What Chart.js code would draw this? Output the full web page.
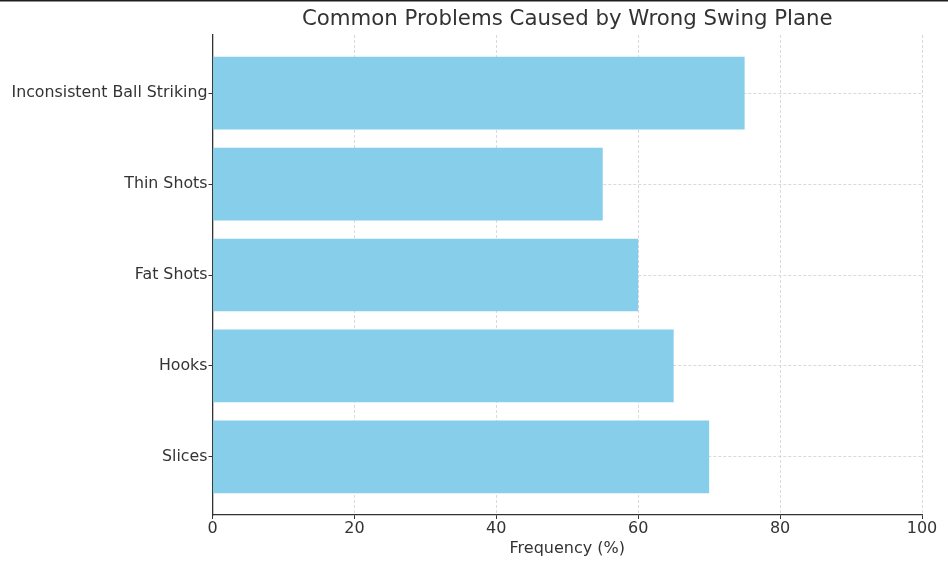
<!DOCTYPE html>
<html>
<head>
<meta charset="utf-8">
<script src="https://cdn.jsdelivr.net/npm/chart.js@4/dist/chart.umd.min.js"></script>
<style>
  html, body { margin: 0; padding: 0; background: #fff; }
  #wrap { width: 948px; height: 562px; position: relative; }
</style>
</head>
<body>
<div id="wrap"><canvas id="c" width="948" height="562"></canvas></div>
<script>
const chartTitle = 'Common Problems Caused by Wrong Swing Plane';
const xAxisTitle = 'Frequency (%)';
const categories = ['Inconsistent Ball Striking', 'Thin Shots', 'Fat Shots', 'Hooks', 'Slices'];
const frequencies = [75, 55, 60, 65, 70];
const xTickValues = [0, 20, 40, 60, 80, 100];

const FONT = "'DejaVu Sans', sans-serif";
const TEXT = '#333333';

const points = categories.map((c, i) => ({ x: frequencies[i], y: i }));

const titlePlugin = {
  id: 'mplTitle',
  afterDraw(chart) {
    const ctx = chart.ctx;
    const a = chart.chartArea;
    ctx.save();
    ctx.fillStyle = TEXT;
    ctx.font = "21.3px " + FONT;
    ctx.textAlign = 'center';
    ctx.textBaseline = 'middle';
    ctx.fillText(chartTitle, (a.left + a.right) / 2, 19.5);
    ctx.restore();
  }
};
const topLinePlugin = {
  id: 'topLine',
  afterDraw(chart) {
    const ctx = chart.ctx;
    ctx.save();
    ctx.fillStyle = '#1e1e1e';
    ctx.fillRect(0, 0, chart.width, 1.5);
    ctx.restore();
  }
};

new Chart(document.getElementById('c'), {
  type: 'bar',
  data: {
    datasets: [{
      data: points,
      backgroundColor: '#87CEEB',
      borderWidth: 0,
      barPercentage: 1.0,
      categoryPercentage: 0.8
    }]
  },
  options: {
    indexAxis: 'y',
    responsive: false,
    animation: false,
    layout: { padding: { left: 0, right: 26, top: 35, bottom: 0 } },
    plugins: { legend: { display: false }, title: { display: false }, tooltip: { enabled: false } },
    scales: {
      x: {
        type: 'linear',
        min: 0, max: 100,
        offset: false,
        afterBuildTicks: s => { s.ticks = xTickValues.map(v => ({ value: v })); },
        afterFit: s => { s.height = 47; },
        ticks: { color: TEXT, font: { family: FONT, size: 16 }, padding: 0 },
        grid: { offset: false, color: '#d0d0d0', lineWidth: 0.8, tickColor: '#333', tickLength: 4, tickWidth: 1, tickBorderDash: [] },
        border: { display: true, color: '#333', width: 1.3, dash: [3, 2] },
        title: { display: true, text: xAxisTitle, color: TEXT, font: { family: FONT, size: 16 }, padding: { top: 2, bottom: 4 } }
      },
      y: {
        type: 'linear',
        reverse: true,
        offset: false,
        min: -0.64, max: 4.64,
        afterBuildTicks: s => { s.ticks = categories.map((c, i) => ({ value: i })); },
        afterFit: s => { s.width = 212.5; },
        ticks: { color: TEXT, font: { family: FONT, size: 15.8 }, padding: 1, callback: v => categories[v] },
        grid: { offset: false, color: '#d0d0d0', lineWidth: 0.8, tickColor: '#333', tickLength: 4, tickWidth: 1, tickBorderDash: [] },
        border: { display: true, color: '#333', width: 1.3, dash: [3, 2] }
      }
    }
  },
  plugins: [titlePlugin, topLinePlugin]
});
</script>
</body>
</html>
